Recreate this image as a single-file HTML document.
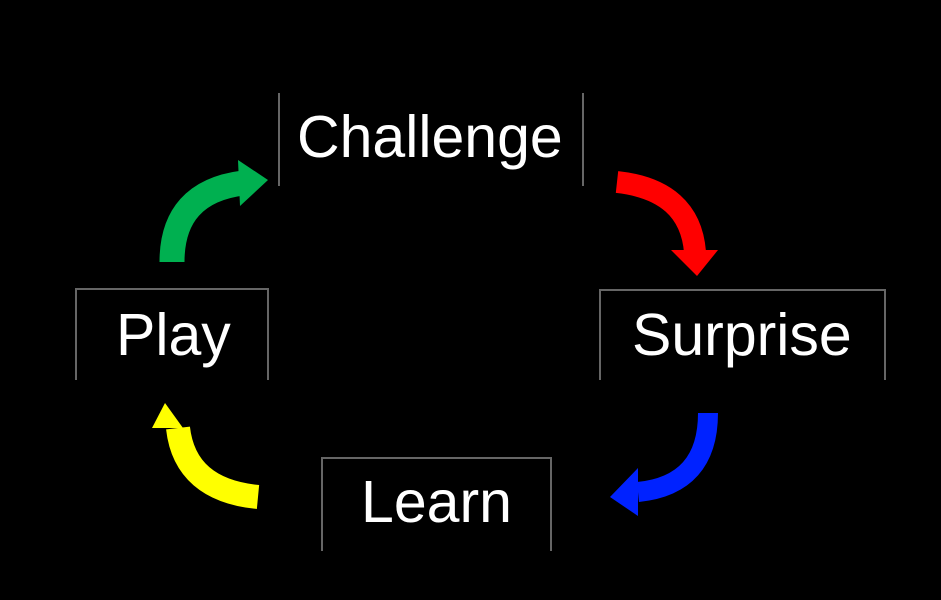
<!DOCTYPE html>
<html><head><style>
html,body{margin:0;padding:0;background:#000;}
body{width:941px;height:600px;position:relative;overflow:hidden;font-family:"Liberation Sans",sans-serif;}
.t{position:absolute;color:#fff;font-size:59px;line-height:1;white-space:nowrap;}
</style></head><body>
<svg width="941" height="600" style="position:absolute;left:0;top:0">
<g stroke="#666" stroke-width="2" fill="none">
<line x1="279" y1="93" x2="279" y2="186"/>
<line x1="583" y1="93" x2="583" y2="186"/>
<polyline points="76,380 76,289 268,289 268,380"/>
<polyline points="600,380 600,290 885,290 885,380"/>
<polyline points="322,551 322,458 551,458 551,551"/>
</g>
<path d="M172,262 Q172,192 243,183" stroke="#00b050" stroke-width="25" fill="none"/>
<polygon points="238,160 268,180 240,206" fill="#00b050"/>
<path d="M617,182 Q690,190 695,252" stroke="#ff0000" stroke-width="22" fill="none"/>
<polygon points="671,250 718,250 697,276" fill="#ff0000"/>
<path d="M708,413 Q708,485 638,492" stroke="#0022ff" stroke-width="20" fill="none"/>
<polygon points="638,468 638,516 610,497" fill="#0022ff"/>
<path d="M258,497 Q185,490 178,428" stroke="#ffff00" stroke-width="24" fill="none"/>
<polygon points="152,428 183,428 165,403" fill="#ffff00"/>
</svg>
<div class="t" style="left:297px;top:108px;">Challenge</div>
<div class="t" style="left:116px;top:306px;">Play</div>
<div class="t" style="left:632px;top:306px;">Surprise</div>
<div class="t" style="left:361px;top:473px;">Learn</div>
</body></html>
